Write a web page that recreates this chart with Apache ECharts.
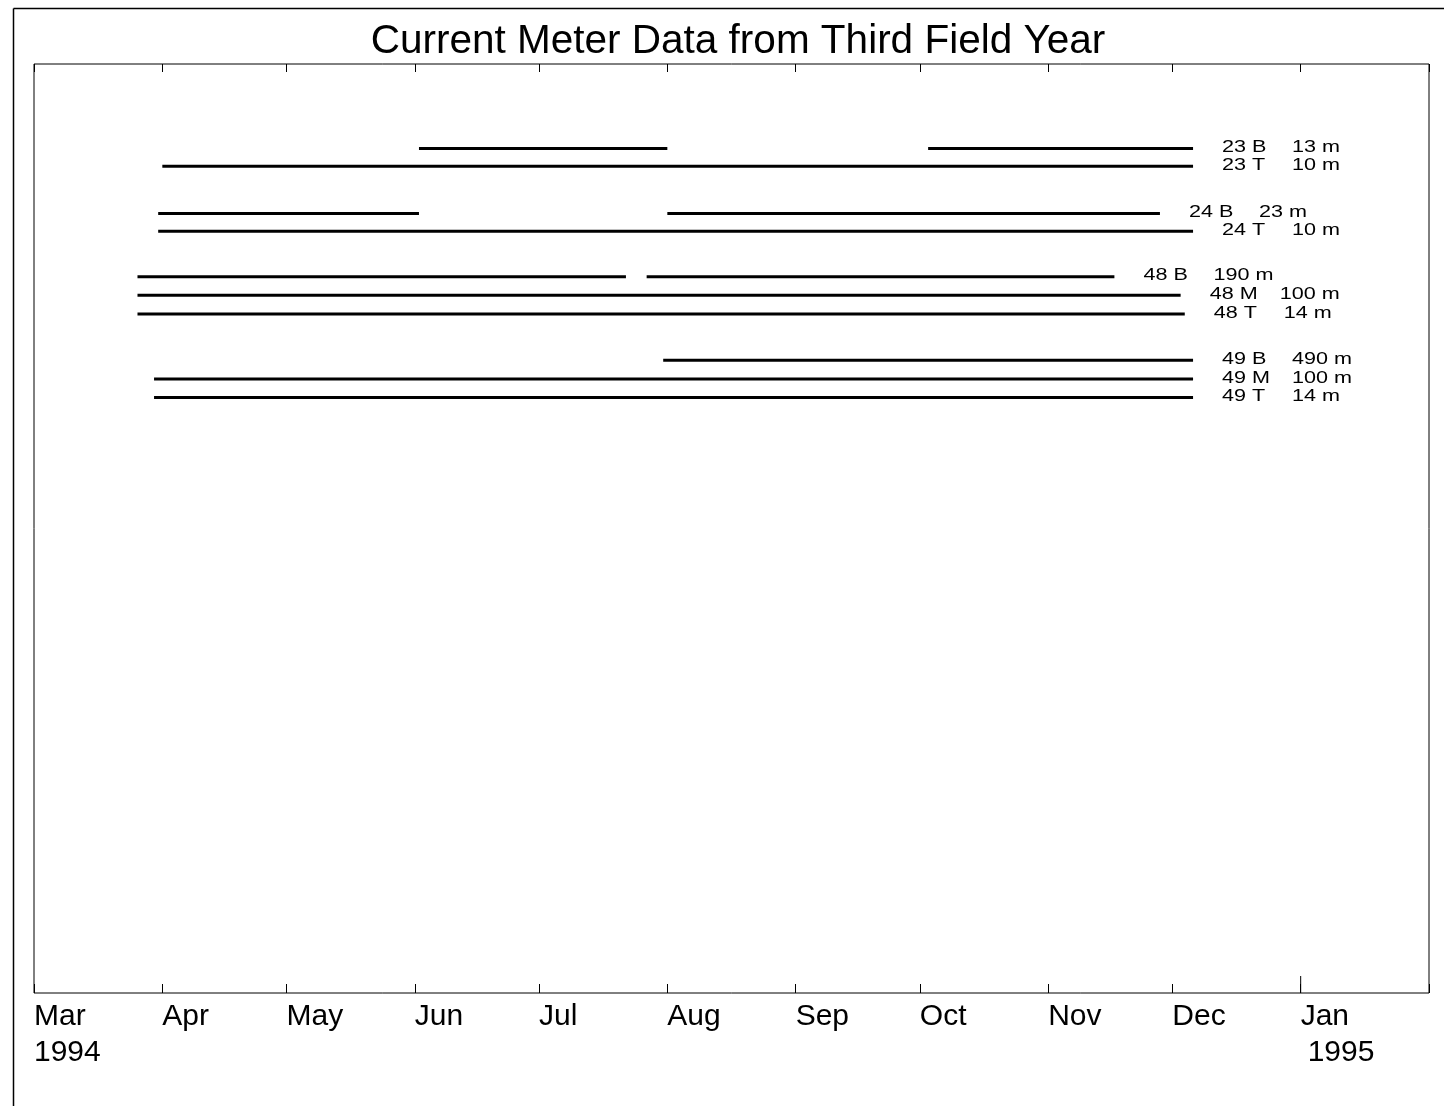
<!DOCTYPE html>
<html>
<head>
<meta charset="utf-8">
<script src="https://cdn.jsdelivr.net/npm/echarts@6/dist/echarts.min.js"></script>
<style>
html,body{margin:0;padding:0;background:#fff;}
#chart{width:1444px;height:1106px;}
</style>
</head>
<body>
<div id="chart"></div>
<script>
// ---- data ----
const instruments = ['23 B','23 T','24 B','24 T','48 B','48 M','48 T','49 B','49 M','49 T'];
const depths = ['13 m','10 m','23 m','10 m','190 m','100 m','14 m','490 m','100 m','14 m'];
const rowPos = [4.55, 5.5, 8.05, 9.0, 11.45, 12.45, 13.45, 15.95, 16.95, 17.95];
// record segments per instrument: starts and ends (same order)
const recordStarts = [
  ['1994-06-02','1994-10-03'],
  ['1994-04-01'],
  ['1994-03-31','1994-08-01'],
  ['1994-03-31'],
  ['1994-03-26','1994-07-27'],
  ['1994-03-26'],
  ['1994-03-26'],
  ['1994-07-31'],
  ['1994-03-30'],
  ['1994-03-30']
];
const recordEnds = [
  ['1994-08-01','1994-12-06'],
  ['1994-12-06'],
  ['1994-06-02','1994-11-28'],
  ['1994-12-06'],
  ['1994-07-22','1994-11-17'],
  ['1994-12-03'],
  ['1994-12-04'],
  ['1994-12-06'],
  ['1994-12-06'],
  ['1994-12-06']
];
const tickMonths = ['1994-03','1994-04','1994-05','1994-06','1994-07','1994-08','1994-09','1994-10','1994-11','1994-12','1995-01'];
const tickLabels = ['Mar\n1994','Apr','May','Jun','Jul','Aug','Sep','Oct','Nov','Dec','Jan\n1995'];
const yearTicks = ['1995-01-01'];
const axisMin = '1994-03-01';
const axisMax = '1995-02-01';

// ---- build ----
const FONT = "'Liberation Sans', Arial, Helvetica, sans-serif";
function ts(d){ return new Date(d + 'T00:00:00').getTime(); }
const segData = [];
instruments.forEach(function(name, i){
  const s = recordStarts[i], e = recordEnds[i];
  for (let k = 0; k < s.length; k++) {
    segData.push([ts(s[k]), ts(e[k]), rowPos[i], i, k === s.length - 1 ? 1 : 0]);
  }
});
function pad2(n){ return (n < 10 ? '0' : '') + n; }

const chart = echarts.init(document.getElementById('chart'), null, {renderer:'canvas'});
const DAY = 24*3600*1000;
const LABEL_SCALE = 1.27;
const option = {
  backgroundColor: '#fff',
  animation: false,
  textStyle: { fontFamily: FONT, color: '#000' },
  title: {
    text: 'Current Meter Data from Third Field Year',
    left: 733, top: 16, textAlign: 'center',
    textStyle: { fontFamily: FONT, fontSize: 40.5, fontWeight: 'normal', color: '#000' }
  },
  grid: {
    left: 34, right: 15, top: 64, bottom: 113,
    show: true, borderColor: '#000', borderWidth: 1, backgroundColor: 'transparent'
  },
  xAxis: [
    {
      type: 'time', position: 'bottom', min: axisMin, max: axisMax,
      minInterval: 28*DAY, maxInterval: 31*DAY, splitNumber: 11,
      axisLine: { show: false, onZero: false },
      splitLine: { show: false },
      minorTick: { show: false },
      axisTick: { show: true, inside: true, length: 9, lineStyle: { color: '#000', width: 1 } },
      axisLabel: {
        show: true, align: 'left', margin: 6, showMaxLabel: false, showMinLabel: true,
        color: '#000', fontFamily: FONT, fontSize: 30, lineHeight: 36,
        formatter: function(v){
          const d = new Date(v);
          const key = d.getFullYear() + '-' + pad2(d.getMonth()+1);
          const idx = tickMonths.indexOf(key);
          if (idx < 0 || d.getDate() !== 1) return '';
          const parts = tickLabels[idx].split('\n');
          if (parts.length === 1) return '{m|' + parts[0] + '}';
          return '{m|' + parts[0] + '}\n{' + (idx === tickLabels.length - 1 ? 'j' : 'm') + '|' + parts[1] + '}';
        },
        rich: {
          m: { fontFamily: FONT, fontSize: 30, lineHeight: 36, color: '#000' },
          j: { fontFamily: FONT, fontSize: 30, lineHeight: 36, color: '#000', padding: [0,0,0,7] }
        }
      }
    },
    {
      type: 'time', position: 'top', min: axisMin, max: axisMax,
      minInterval: 28*DAY, maxInterval: 31*DAY, splitNumber: 11,
      axisLine: { show: false, onZero: false },
      splitLine: { show: false },
      axisTick: { show: true, inside: true, length: 8, lineStyle: { color: '#000', width: 1 } },
      axisLabel: { show: false }
    }
  ],
  yAxis: {
    type: 'value', min: 0, max: 50, inverse: true, show: false
  },
  series: [
    {
      type: 'custom',
      name: 'records',
      xAxisIndex: 0,
      clip: false,
      data: segData,
      encode: { x: [0, 1], y: 2 },
      renderItem: function(params, api){
        const s = api.coord([api.value(0), api.value(2)]);
        const e = api.coord([api.value(1), api.value(2)]);
        const children = [{
          type: 'line',
          shape: { x1: s[0], y1: s[1], x2: e[0], y2: e[1] },
          style: { stroke: '#000', lineWidth: 3, lineCap: 'butt' }
        }];
        if (api.value(4) === 1) {
          const i = api.value(3);
          children.push({
            type: 'text',
            x: e[0] + 29, y: e[1] - 1,
            scaleX: LABEL_SCALE, scaleY: 1,
            style: {
              text: '{a|' + instruments[i] + '}{b|' + depths[i] + '}',
              rich: {
                a: { width: 70 / LABEL_SCALE, fontSize: 17, fontFamily: FONT, fill: '#000' },
                b: { fontSize: 17, fontFamily: FONT, fill: '#000' }
              },
              fontSize: 17, fontFamily: FONT, fill: '#000',
              align: 'left', verticalAlign: 'middle'
            }
          });
        }
        return { type: 'group', children: children };
      }
    },
    {
      type: 'custom',
      name: 'yearTick',
      xAxisIndex: 0,
      clip: false,
      data: yearTicks.map(function(d){ return [ts(d)]; }),
      encode: { x: 0 },
      renderItem: function(params, api){
        const cs = params.coordSys;
        const p = api.coord([api.value(0), 0]);
        const yb = cs.y + cs.height;
        return {
          type: 'line',
          shape: { x1: p[0], y1: yb, x2: p[0], y2: yb - 17 },
          style: { stroke: '#000', lineWidth: 1 }
        };
      }
    }
  ],
  graphic: [
    { type: 'line', shape: { x1: 13.5, y1: 8.5, x2: 13.5, y2: 1106 }, style: { stroke: '#000', lineWidth: 1.5 } },
    { type: 'line', shape: { x1: 13.5, y1: 8.5, x2: 1444, y2: 8.5 }, style: { stroke: '#000', lineWidth: 1.5 } }
  ]
};
chart.setOption(option);
</script>
</body>
</html>
